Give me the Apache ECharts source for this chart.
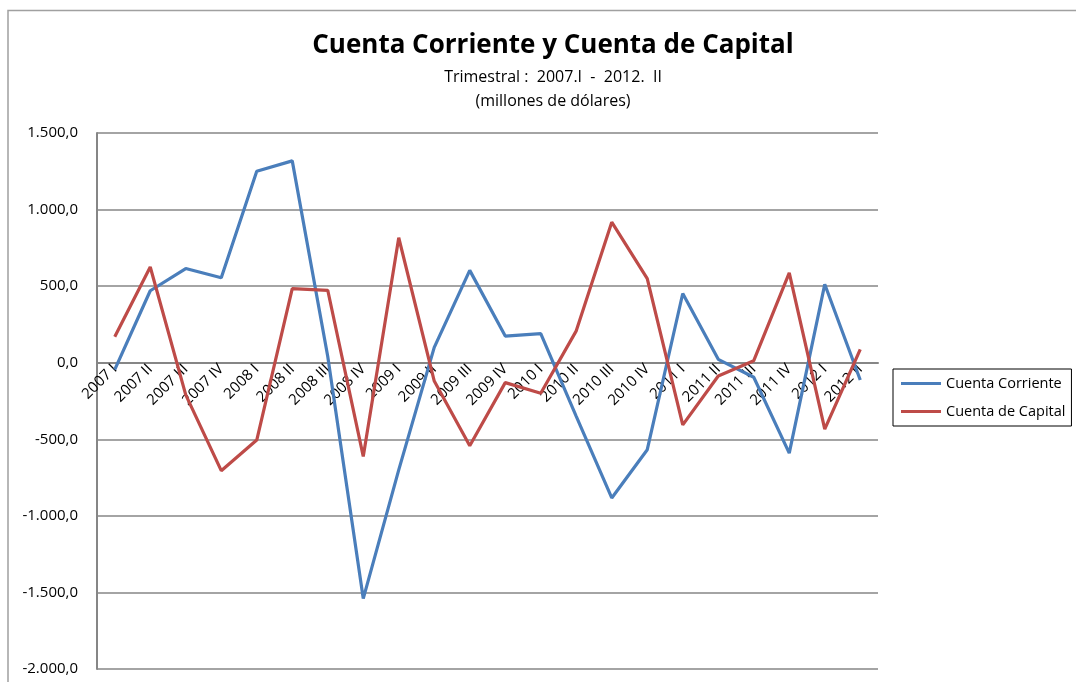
<!DOCTYPE html>
<html>
<head>
<meta charset="utf-8">
<script src="https://cdn.jsdelivr.net/npm/echarts@6/dist/echarts.min.js"></script>
<style>
  html, body { margin: 0; padding: 0; background: #fff; }
  #chart { width: 1076px; height: 682px; }
</style>
</head>
<body>
<div id="chart"></div>
<script>
var quarters = ['2007 I', '2007 II', '2007 III', '2007 IV', '2008 I', '2008 II', '2008 III', '2008 IV',
    '2009 I', '2009 II', '2009 III', '2009 IV', '2010 I', '2010 II', '2010 III', '2010 IV',
    '2011 I', '2011 II', '2011 III', '2011 IV', '2012 I', '2012 II'];
var cuentaCorriente = [-45, 470, 615, 555, 1250, 1318, 40, -1540, -700, 100, 603, 174, 190, -350,
    -883, -568, 452, 22, -95, -590, 512, -113];
var cuentaCapital = [169, 625, -210, -705, -505, 484, 473, -612, 816, -120, -542, -130, -199, 208,
    918, 549, -406, -87, 13, 586, -434, 87];

var font = 'Open Sans';
var gridTop = 133, gridBottom = 13, chartH = 682;
var yMin = -2000, yMax = 1500;

function formatoEs(v) {
    var neg = v < 0;
    var s = Math.abs(v).toFixed(0).replace(/\B(?=(\d{3})+(?!\d))/g, '.');
    return (neg ? '-' : '') + s + ',0';
}

function lineSeries(name, data, color) {
    return {
        name: name,
        type: 'line',
        data: data,
        symbol: 'none',
        lineStyle: { color: color, width: 3.2 },
        itemStyle: { color: color },
        z: 3
    };
}

// el eje de categorías cruza en 0: desplazarlo desde el borde inferior del grid
var plotH = chartH - gridTop - gridBottom;
var zeroOffset = -plotH * (0 - yMin) / (yMax - yMin);

var chart = echarts.init(document.getElementById('chart'));
var option = {
    backgroundColor: '#fff',
    animation: false,
    title: {
        text: 'Cuenta Corriente y Cuenta de Capital',
        subtext: 'Trimestral :  2007.I  -  2012.  II\n(millones de dólares)',
        left: 548,
        textAlign: 'center',
        top: 28,
        itemGap: 6,
        textStyle: { fontFamily: font, fontSize: 26, fontWeight: 'bold', color: '#000' },
        subtextStyle: { fontFamily: font, fontSize: 16, color: '#000', lineHeight: 24 }
    },
    legend: {
        orient: 'vertical',
        left: 893,
        top: 369,
        itemWidth: 40,
        itemHeight: 3,
        itemGap: 13,
        padding: [7, 6, 7, 8],
        borderColor: '#000',
        borderWidth: 1,
        icon: 'rect',
        textStyle: { fontFamily: font, fontSize: 14.5, color: '#000' },
        data: ['Cuenta Corriente', 'Cuenta de Capital']
    },
    grid: { left: 97, right: 198, top: gridTop, bottom: gridBottom, outerBoundsMode: 'none' },
    xAxis: {
        type: 'category',
        data: quarters,
        boundaryGap: true,
        offset: zeroOffset,
        axisLine: { onZero: false, lineStyle: { color: '#868686', width: 2 } },
        axisTick: { show: false },
        axisLabel: { rotate: 45, interval: 0, margin: 4, fontFamily: font, fontSize: 15, color: '#000' },
        z: 2
    },
    yAxis: {
        type: 'value',
        min: yMin,
        max: yMax,
        interval: 500,
        axisLine: { show: true, onZero: false, lineStyle: { color: '#868686', width: 2 } },
        axisTick: { show: false },
        splitLine: { lineStyle: { color: '#868686', width: 1.5 } },
        axisLabel: { margin: 19, fontFamily: font, fontSize: 15, color: '#000', formatter: formatoEs }
    },
    graphic: [{
        type: 'polyline',
        shape: { points: [[8, 690], [8, 10.5], [1076, 10.5]] },
        style: { stroke: '#a0a0a0', lineWidth: 1.5, fill: null },
        silent: true
    }],
    series: [
        lineSeries('Cuenta Corriente', cuentaCorriente, '#4a7ebb'),
        lineSeries('Cuenta de Capital', cuentaCapital, '#be4b48')
    ]
};
chart.setOption(option);
window.onresize = chart.resize;
</script>
</body>
</html>
